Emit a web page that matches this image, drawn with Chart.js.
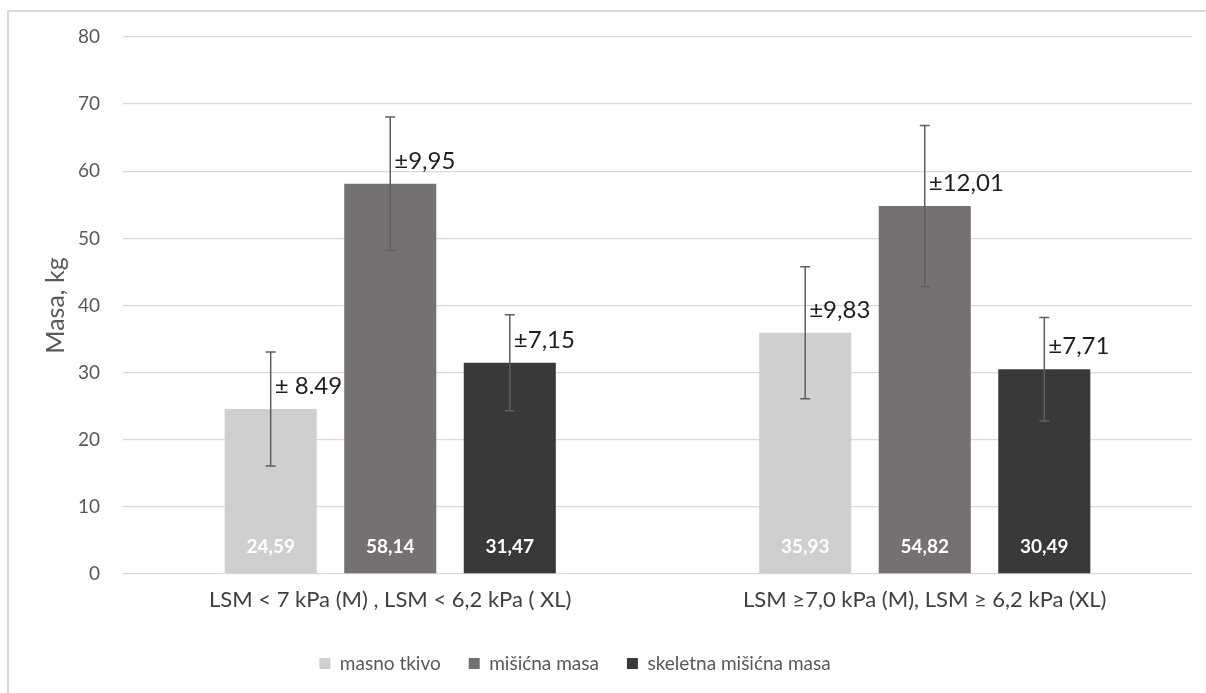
<!DOCTYPE html>
<html>
<head>
<meta charset="utf-8">
<script src="https://cdn.jsdelivr.net/npm/chart.js@4.4.1/dist/chart.umd.min.js"></script>
<style>
  body { margin: 0; background: #fff; }
  #frame { position: absolute; left: 7px; top: 10px; width: 1300px; height: 800px;
           border-top: 2px solid #d9d9d9; border-left: 2px solid #d9d9d9; }
  #wrap { position: absolute; left: 0; top: 0; width: 1206px; height: 693px; }
</style>
</head>
<body>
<div id="frame"></div>
<div id="wrap"><canvas id="myChart" width="1206" height="693"></canvas></div>
<script>
// data
var categories = ['LSM < 7 kPa (M) , LSM < 6,2 kPa ( XL)', 'LSM \u22657,0 kPa (M), LSM \u2265 6,2 kPa (XL)'];
var seriesNames = ['masno tkivo', 'mi\u0161i\u0107na masa', 'skeletna mi\u0161i\u0107na masa'];
var masnoTkivo = [24.59, 35.93];
var misicnaMasa = [58.14, 54.82];
var skeletnaMasa = [31.47, 30.49];
var masnoSd = [8.49, 9.83];
var misicnaSd = [9.95, 12.01];
var skeletnaSd = [7.15, 7.71];
var valueLabels = [['24,59', '35,93'], ['58,14', '54,82'], ['31,47', '30,49']];
var sdLabels = [['\u00b1 8.49', '\u00b19,83'], ['\u00b19,95', '\u00b112,01'], ['\u00b17,15', '\u00b17,71']];
var colors = ['#d0cece', '#767171', '#3b3838'];

var FONT = 'Lato';

var errorBars = {
  id: 'errorBars',
  afterDatasetsDraw: function(chart) {
    var ctx = chart.ctx;
    var y = chart.scales.y;
    chart.data.datasets.forEach(function(ds, i) {
      var meta = chart.getDatasetMeta(i);
      meta.data.forEach(function(bar, j) {
        var v = ds.data[j], sd = ds.sd[j];
        var top = y.getPixelForValue(v + sd), bot = y.getPixelForValue(v - sd);
        ctx.save();
        ctx.strokeStyle = '#5f5f5f';
        ctx.lineWidth = 1.5;
        ctx.beginPath();
        ctx.moveTo(bar.x, top); ctx.lineTo(bar.x, bot);
        ctx.moveTo(bar.x - 5, top); ctx.lineTo(bar.x + 5, top);
        ctx.moveTo(bar.x - 5, bot); ctx.lineTo(bar.x + 5, bot);
        ctx.stroke();
        // value inside bar base
        ctx.fillStyle = '#ffffff';
        ctx.font = 'bold 19px ' + FONT;
        ctx.textAlign = 'center';
        ctx.textBaseline = 'middle';
        ctx.fillText(valueLabels[i][j], bar.x, bar.base - 26);
        // sd label
        ctx.fillStyle = '#1e1e1e';
        ctx.font = '24px ' + FONT;
        ctx.textAlign = 'left';
        ctx.textBaseline = 'alphabetic';
        ctx.fillText(sdLabels[i][j], bar.x + 4, bar.y - 15);
        ctx.restore();
      });
    });
  }
};

// nudge legend a bit left like the original
var legendShift = {
  id: 'legendShift',
  afterLayout: function(chart) {
    chart.legend.left -= 21;
    chart.legend.right -= 21;
  }
};

var ctx = document.getElementById('myChart').getContext('2d');
var myChart = new Chart(ctx, {
  type: 'bar',
  data: {
    labels: categories,
    datasets: [
      { label: seriesNames[0], data: masnoTkivo, sd: masnoSd, backgroundColor: colors[0] },
      { label: seriesNames[1], data: misicnaMasa, sd: misicnaSd, backgroundColor: colors[1] },
      { label: seriesNames[2], data: skeletnaMasa, sd: skeletnaSd, backgroundColor: colors[2] }
    ]
  },
  options: {
    responsive: false,
    animation: false,
    categoryPercentage: 0.671,
    barPercentage: 0.77,
    layout: { padding: { top: 37, left: 0, right: 14, bottom: 10 } },
    plugins: {
      tooltip: { enabled: false },
      legend: {
        position: 'bottom',
        labels: {
          boxWidth: 11, boxHeight: 11, padding: 28,
          color: '#595959',
          font: { family: FONT, size: 19 }
        }
      }
    },
    scales: {
      x: {
        grid: { display: false },
        border: { display: false },
        ticks: { color: '#404040', padding: 5, font: { family: FONT, size: 22 } },
        afterFit: function(s) { s.height = 52; }
      },
      y: {
        min: 0, max: 80,
        ticks: { stepSize: 10, color: '#595959', padding: 23, font: { family: FONT, size: 19 } },
        grid: { color: '#d9d9d9', drawTicks: false, lineWidth: 1.3 },
        border: { display: false },
        title: {
          display: true, text: 'Masa, kg', color: '#595959',
          font: { family: FONT, size: 25 }, padding: { top: 41, bottom: 0 }
        },
        afterFit: function(s) { s.width = 123; }
      }
    }
  },
  plugins: [errorBars, legendShift]
});
</script>
</body>
</html>
